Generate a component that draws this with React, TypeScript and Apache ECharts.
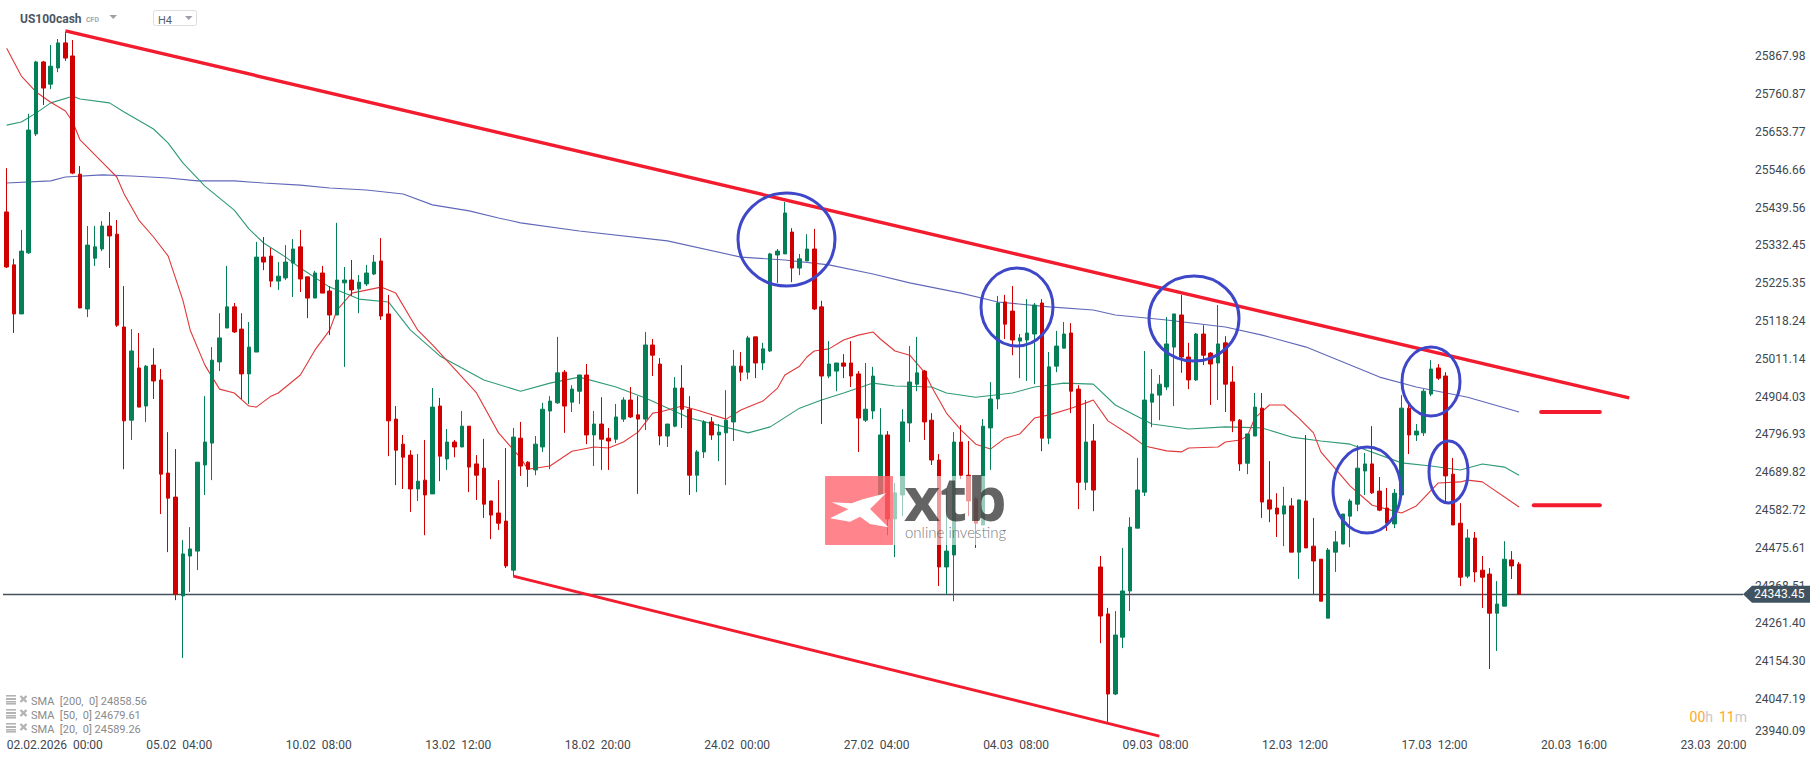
import React, { useEffect, useRef } from "react";
import * as echarts from "echarts";

const xTickLabels = [
  "02.02.2026  00:00", "05.02  04:00", "10.02  08:00", "13.02  12:00", "18.02  20:00", "24.02  00:00", "27.02  04:00",
  "04.03  08:00", "09.03  08:00", "12.03  12:00", "17.03  12:00", "20.03  16:00", "23.03  20:00",
];
const yTicks = [23940.09, 24047.19, 24154.3, 24261.4, 24368.51, 24475.61, 24582.72, 24689.82, 24796.93, 24904.03, 25011.14, 25118.24, 25225.35, 25332.45, 25439.56, 25546.66, 25653.77, 25760.87, 25867.98];
const yMin = 23940.09;
const yMax = 25975.09;
const currentPrice = 24343.45;
const slotCount = 237;
const labelEvery = 19;

const opens = [
  25427,25277,25138,25311,25648,25852,25789,25835,25906,25869,
  25534,25152,25296,25322,25387,25364,25101,24837,24985,24877,
  24993,24951,24687,24619,24339,24452,24466,24710,24772,25002,
  25098,25158,25095,24968,25030,25299,25302,25231,25240,25282,
  25328,25243,25183,25254,25203,25135,25226,25234,25209,25223,
  25251,25288,25138,24840,24769,24738,24642,24667,24628,24877,
  24727,24775,24761,24820,24713,24701,24608,24574,24551,24412,
  24786,24718,24696,24761,24863,24886,24973,24888,24919,24965,
  24795,24826,24786,24783,24840,24894,24852,24840,25050,24996,
  24792,24820,24928,24868,24681,24747,24832,24795,24801,24832,
  24990,24973,25073,24999,25033,25305,25308,25370,25268,25288,
  25322,25158,24962,24976,24999,24999,24968,24837,24863,24619,
  24795,24557,24625,24829,24939,24976,24837,24724,24421,24455,
  24775,24681,24614,24540,24815,24897,25172,25146,25061,25064,
  25081,25169,24786,24990,25041,25084,24925,24661,24778,24421,
  24288,24061,24222,24353,24531,24633,24888,24908,24931,25044,
  25135,25016,24951,25081,25027,24999,25056,24945,24837,24715,
  24792,24871,24611,24588,24571,24594,24463,24608,24480,24443,
  24276,24463,24486,24565,24599,24693,24713,24636,24588,24543,
  24625,24871,24795,24801,24911,24985,24962,24684,24545,24395,
  24503,24412,24401,24290,24310,24441,24429,
];
const closes = [
  25271,25138,25316,25659,25852,25778,25840,25906,25863,25537,
  25155,25333,25328,25387,25359,25106,24835,25033,24874,24990,
  24948,24684,24616,24344,24458,24472,24718,24775,25007,25070,
  25158,25087,24968,25044,25299,25285,25231,25245,25285,25322,
  25237,25183,25254,25197,25135,25234,25234,25206,25228,25254,
  25285,25132,24835,24752,24732,24642,24664,24625,24874,24735,
  24775,24761,24820,24704,24681,24599,24568,24545,24424,24789,
  24707,24698,24769,24868,24891,24971,24877,24925,24965,24795,
  24826,24783,24778,24846,24894,24846,24840,25050,25021,24792,
  24826,24928,24868,24681,24747,24832,24795,24803,24837,24990,
  24973,25070,24999,25039,25308,25316,25424,25268,25294,25322,
  25152,24962,24996,24999,24990,24962,24843,24868,24962,24795,
  24557,24631,24832,24945,24971,24832,24724,24421,24466,24775,
  24681,24608,24545,24820,24897,25169,25109,25064,25070,25084,
  25163,24786,24988,25047,25081,24919,24661,24775,24639,24282,
  24061,24228,24353,24534,24639,24894,24911,24939,25053,25138,
  25016,24951,25081,25021,24996,25053,24939,24835,24713,24798,
  24874,24605,24585,24571,24594,24463,24611,24475,24438,24324,
  24469,24492,24571,24608,24701,24713,24631,24582,24545,24630,
  24871,24795,24806,24919,24982,24956,24679,24540,24392,24503,
  24407,24392,24290,24316,24443,24424,24343.45,
];
const lows = [
  25268,25084,25138,25308,25642,25730,25775,25823,25855,25534,
  25154,25129,25274,25316,25268,25101,24698,24781,24874,24832,
  24897,24571,24463,24327,24163,24350,24412,24625,24667,24976,
  25098,25084,24897,24883,25030,25262,25214,25206,25234,25186,
  25200,25126,25183,25197,25078,25135,24988,25189,25140,25217,
  25248,25121,24735,24653,24642,24577,24608,24511,24628,24664,
  24696,24732,24761,24633,24611,24560,24500,24526,24418,24395,
  24679,24648,24681,24747,24698,24883,24801,24860,24883,24769,
  24707,24696,24696,24772,24832,24843,24628,24809,24962,24766,
  24761,24817,24815,24625,24633,24730,24781,24721,24653,24778,
  24948,24953,24956,24979,25030,25226,25308,25228,25248,25288,
  25149,24826,24956,24919,24956,24931,24747,24832,24840,24619,
  24511,24449,24565,24775,24919,24781,24710,24367,24344,24324,
  24670,24565,24475,24540,24696,24868,25067,25021,24956,24948,
  24939,24749,24769,24973,25041,24857,24585,24639,24579,24205,
  23982,24058,24191,24296,24531,24622,24817,24837,24922,24877,
  24971,24925,24948,24993,24880,24894,24860,24803,24693,24684,
  24792,24560,24548,24506,24480,24463,24387,24475,24344,24324,
  24276,24407,24486,24477,24579,24625,24628,24579,24523,24531,
  24625,24741,24778,24792,24905,24951,24608,24540,24367,24389,
  24378,24305,24132,24183,24310,24387,24343,
];
const highs = [
  25551,25294,25376,25705,25855,25855,25900,25917,25937,25914,
  25557,25387,25387,25401,25427,25404,25217,25095,25084,24993,
  25041,24982,24803,24755,24497,24534,24718,24905,25044,25140,
  25274,25169,25140,25115,25342,25356,25325,25285,25333,25350,
  25376,25243,25260,25274,25217,25396,25271,25291,25248,25277,
  25305,25353,25192,24877,24795,24752,24741,24781,24928,24900,
  24812,24781,24863,24820,24738,24784,24608,24667,24758,24815,
  24832,24721,24792,24886,24905,25073,24979,24936,24965,24996,
  24863,24902,24815,24883,24902,24931,24905,25087,25067,25013,
  24826,24959,24993,24905,24752,24837,24846,24826,24922,25036,
  25030,25076,25073,25056,25311,25322,25455,25381,25308,25364,
  25379,25175,25061,24999,25024,25061,24976,24999,24988,24871,
  24806,24659,24868,25047,25073,24979,24857,24741,24639,24803,
  24823,24778,24619,24840,24945,25189,25192,25217,25081,25180,
  25169,25180,25030,25090,25115,25112,24936,24894,24826,24452,
  24305,24296,24475,24562,24730,25033,24982,24965,25129,25138,
  25192,25056,25084,25106,25030,25163,25075,24990,24840,24798,
  24914,24914,24721,24630,24648,24616,24611,24795,24560,24443,
  24475,24523,24571,24614,24766,24744,24820,24676,24645,24642,
  24908,24883,24826,24925,25007,24996,24973,24730,24602,24528,
  24520,24452,24418,24381,24494,24466,24435,
];

const sma200 = [[0,25509],[6,25515],[8,25526],[13,25532],[17,25529],[22,25523],[26,25515],[31,25515],[35,25509],[40,25503],[44,25495],[49,25489],[54,25478],[58,25447],[63,25430],[67,25410],[70,25396],[78,25373],[90,25345],[100,25299],[106,25291],[112,25277],[118,25251],[123,25226],[130,25197],[135,25172],[142,25158],[148,25149],[151,25135],[158,25121],[166,25101],[171,25078],[177,25044],[182,25002],[187,24959],[192,24931],[199,24902],[206,24860]];
const sma50 = [[0,25673],[2,25682],[4,25707],[6,25736],[9,25755],[10,25747],[14,25736],[16,25710],[20,25662],[22,25622],[24,25566],[27,25500],[31,25432],[33,25379],[35,25339],[38,25299],[40,25268],[44,25214],[48,25180],[52,25172],[55,25092],[59,25019],[65,24951],[70,24919],[74,24942],[78,24959],[83,24931],[87,24900],[93,24843],[101,24801],[104,24818],[108,24871],[111,24894],[114,24914],[118,24942],[121,24934],[126,24931],[128,24914],[132,24902],[137,24914],[140,24931],[144,24942],[148,24939],[151,24880],[156,24826],[161,24812],[166,24818],[171,24815],[175,24789],[179,24778],[183,24769],[190,24716],[194,24707],[198,24696],[201,24713],[204,24704],[206,24681]];
const sma20 = [[0,25891],[2,25812],[4,25767],[6,25738],[8,25713],[9,25682],[10,25631],[13,25568],[15,25526],[16,25478],[18,25404],[20,25356],[22,25302],[24,25177],[25,25092],[27,24993],[29,24925],[31,24914],[33,24877],[34,24874],[36,24905],[37,24914],[40,24965],[42,25036],[44,25092],[45,25149],[47,25197],[51,25214],[53,25197],[56,25092],[58,25050],[64,24914],[67,24801],[70,24730],[71,24698],[74,24707],[77,24749],[80,24761],[82,24758],[84,24775],[86,24803],[88,24857],[89,24860],[92,24877],[94,24866],[98,24840],[100,24866],[103,24891],[105,24928],[106,24965],[108,24990],[109,25016],[110,25033],[112,25039],[114,25064],[116,25078],[118,25087],[119,25067],[121,25033],[123,25021],[125,24973],[126,24931],[128,24857],[130,24809],[132,24769],[134,24755],[136,24786],[138,24798],[140,24843],[142,24852],[145,24871],[147,24886],[148,24894],[150,24835],[153,24795],[155,24764],[158,24750],[160,24747],[161,24758],[165,24761],[166,24775],[168,24781],[169,24792],[170,24843],[172,24880],[174,24880],[176,24843],[178,24801],[179,24747],[183,24650],[186,24596],[190,24574],[192,24594],[195,24659],[198,24662],[199,24667],[201,24662],[206,24591]];

const trendTop = [[8, 25940], [221, 24900]];
const trendBottom = [[69, 24395], [157, 23942]];
const levelUpper = [[209, 24860], [217, 24860]];
const levelLower = [[208, 24596], [217, 24596]];

const legendRows = ["SMA  [200,  0] 24858.56", "SMA  [50,  0] 24679.61", "SMA  [20,  0] 24589.26"];

const RED = "#d00000";
const GREEN = "#047f57";
const TREND = "#f31b2e";
const CIRCLE = "#3f47c9";
const FONT = "Roboto";

const circles = [
  [786.5, 239.5, 48.5, 46.5],
  [1017, 307, 36, 39],
  [1194, 318.5, 45, 42.5],
  [1431, 381.5, 29, 34.5],
  [1448.5, 472, 19.5, 31],
  [1367, 490, 34, 43],
];

function overlays() {
  const els: any[] = [];
  const z = 100;
  const text = (t: string, x: number, y: number, font: string, fill: string, extra: any = {}) => ({
    type: "text", z, silent: true,
    style: { text: t, x, y, font, fill, textVerticalAlign: "middle", ...extra },
  });
  // logo
  els.push({ type: "rect", z: 90, silent: true, shape: { x: 825, y: 476, width: 180, height: 69 }, style: { fill: "rgba(255,255,255,0.6)" } });
  els.push({ type: "rect", z: 91, silent: true, shape: { x: 825, y: 476, width: 68, height: 69, r: 1 }, style: { fill: "rgba(255,10,25,0.5)" } });
  els.push({ type: "polygon", z: 92, silent: true, shape: { points: [[831.7, 502.3], [851.7, 503.3], [862.7, 499.3], [886, 493.3], [870, 509], [888.3, 527.3], [870, 524], [860, 516.7], [850, 521.7], [830, 518.3], [848.3, 509.3]] }, style: { fill: "#ffffff" } });
  els.push({ type: "text", z: 92, silent: true, x: 904, y: 468, scaleX: 1.04, style: { text: "xtb", x: 0, y: 0, font: "bold 60px 'Open Sans'", fill: "rgba(40,40,40,0.72)" } });
  els.push({ type: "text", z: 92, silent: true, style: { text: "online investing", x: 905, y: 532, font: "300 15px Lato", fill: "rgba(70,70,70,0.75)", textVerticalAlign: "middle" } });
  // ellipses
  circles.forEach(([cx, cy, rx, ry]) => {
    els.push({ type: "ellipse", z: 95, silent: true, shape: { cx, cy, rx, ry }, style: { fill: "none", stroke: CIRCLE, lineWidth: 3 } });
  });
  // header
  els.push(text("US100cash", 20, 18.5, `bold 12px ${FONT}`, "#4b5662"));
  els.push(text("CFD", 86, 19.5, `bold 7px ${FONT}`, "#a2a7ac"));
  els.push({ type: "polygon", z, silent: true, shape: { points: [[109.5, 15], [117, 15], [113.2, 19]] }, style: { fill: "#9aa0a6" } });
  els.push({ type: "rect", z, silent: true, shape: { x: 153.5, y: 10.5, width: 43, height: 15, r: 2 }, style: { fill: "#fff", stroke: "#dddddd", lineWidth: 1 } });
  els.push(text("H4", 158, 20, `11px ${FONT}`, "#55606a"));
  els.push({ type: "polygon", z, silent: true, shape: { points: [[185, 16], [192.5, 16], [188.7, 20]] }, style: { fill: "#9aa0a6" } });
  // legend
  legendRows.forEach((row, i) => {
    const y = 700 + i * 14;
    [-5, -2, 1, 3].forEach((dy, k) => {
      els.push({ type: "rect", z, silent: true, shape: { x: 6, y: y + dy, width: 10, height: k === 1 ? 2 : 1.6 }, style: { fill: "#b4b4b4" } });
    });
    els.push({ type: "line", z, silent: true, shape: { x1: 20.5, y1: y - 4, x2: 26.5, y2: y + 2 }, style: { stroke: "#b4b4b4", lineWidth: 2.4 } });
    els.push({ type: "line", z, silent: true, shape: { x1: 26.5, y1: y - 4, x2: 20.5, y2: y + 2 }, style: { stroke: "#b4b4b4", lineWidth: 2.4 } });
    els.push(text(row, 31, y + 1, `11px ${FONT}`, "#8a8a8a"));
  });
  // timer
  els.push({
    type: "text", z, silent: true,
    style: {
      text: "{a|00}{b|h}{g| }{a|11}{b|m}", x: 1747, y: 717, align: "right", textVerticalAlign: "middle",
      rich: {
        a: { fontFamily: FONT, fontSize: 14, fill: "#ffa726" },
        b: { fontFamily: FONT, fontSize: 14, fill: "#c8c8c8" },
        g: { fontFamily: FONT, fontSize: 14, width: 6 },
      },
    },
  });
  return els;
}

export default function App() {
  const ref = useRef<HTMLDivElement>(null);
  useEffect(() => {
    document.body.style.margin = "0";
    const chart = echarts.init(ref.current!, undefined, { renderer: "svg" });
    const categories = Array.from({ length: slotCount }, (_, i) => (i % labelEvery === 0 ? xTickLabels[i / labelEvery] : `${i}`));
    const lineSeries = (name: string, data: number[][], color: string, width: number, z: number, cap = "butt") => ({
      name, type: "line", data, symbol: "none", smooth: false, silent: true, z,
      lineStyle: { color, width, cap }, clip: true,
    });
    chart.setOption({
      animation: false,
      backgroundColor: "#ffffff",
      grid: { left: 3, top: 18.5, width: 1740, height: 718.2, containLabel: false },
      xAxis: {
        type: "category", data: categories, boundaryGap: true,
        axisLine: { show: false }, axisTick: { show: false }, splitLine: { show: false },
        axisLabel: { interval: labelEvery - 1, align: "left", margin: 2, color: "#3e4850", fontFamily: FONT, fontSize: 12, hideOverlap: false },
      },
      yAxis: {
        type: "value", position: "right", min: yMin, max: yMax, scale: true,
        axisLine: { show: false }, axisTick: { show: false }, splitLine: { show: false },
        axisLabel: {
          customValues: yTicks, formatter: (v: number) => v.toFixed(2), margin: 12,
          color: "#3e4850", fontFamily: FONT, fontSize: 12, verticalAlignMinLabel: "bottom",
        },
      },
      series: [
        lineSeries("SMA 200", sma200, "#6068b8", 1.1, 3),
        lineSeries("SMA 50", sma50, "#2e9a76", 1.1, 3),
        lineSeries("SMA 20", sma20, "#e0383a", 1.1, 3),
        {
          name: "US100cash", type: "candlestick", z: 4, silent: true, barWidth: 4,
          data: opens.map((o, i) => [o, closes[i], lows[i], highs[i]]),
          itemStyle: { color: GREEN, color0: RED, borderColor: GREEN, borderColor0: RED, borderWidth: 1 },
          markLine: {
            silent: true, symbol: "none", animation: false, z: 4,
            lineStyle: { color: "#45525c", width: 1.4, type: "solid" }, label: { show: false },
            data: [{ yAxis: currentPrice }],
          },
        },
        lineSeries("Resistance", trendTop, TREND, 3.4, 6),
        lineSeries("Support", trendBottom, TREND, 2.8, 6),
        lineSeries("Level 1", levelUpper, TREND, 4, 6, "round"),
        lineSeries("Level 2", levelLower, TREND, 4, 6, "round"),
        {
          name: "Price tag", type: "custom", z: 60, silent: true, clip: false,
          data: [[0, currentPrice]],
          encode: { x: 0, y: 1 },
          renderItem: (params: any, api: any) => {
            const p = api.coord([0, api.value(1)]);
            const right = params.coordSys.x + params.coordSys.width;
            const y = p[1];
            return {
              type: "group",
              children: [
                { type: "polygon", shape: { points: [[right, y], [right + 9, y - 8.5], [1810, y - 8.5], [1810, y + 8.5], [right + 9, y + 8.5]] }, style: { fill: "#415360" } },
                { type: "text", style: { text: currentPrice.toFixed(2), x: right + 11, y, fill: "#ffffff", font: `12px ${FONT}`, textVerticalAlign: "middle" } },
              ],
            };
          },
        },
      ],
      graphic: { elements: overlays() },
    });
    return () => chart.dispose();
  }, []);
  return <div ref={ref} style={{ position: "fixed", left: 0, top: 0, width: 1815, height: 761 }} />;
}
